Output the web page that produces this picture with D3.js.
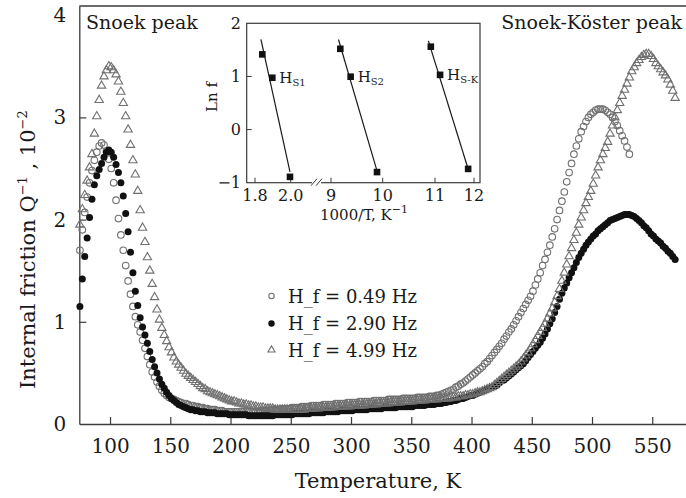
<!DOCTYPE html>
<html>
<head>
<meta charset="utf-8">
<script src="https://cdn.jsdelivr.net/npm/d3@7"></script>
<style>
  html, body { margin: 0; padding: 0; background: #fff; }
  svg { display: block; }
  text { font-family: "DejaVu Serif", "Liberation Serif", serif; fill: #1a1a1a; }
</style>
</head>
<body>
<script>
// Internal friction vs temperature, three measuring frequencies (2 K grid from 75 K)
const gridStart = 75;
const gridStep = 2;

const series049 = [
  1.70,1.90,2.07,2.22,2.36,2.48,2.58,2.66,2.72,2.75,2.73,2.67,2.59,2.50,2.36,2.19,2.01,1.85,1.70,1.55,
  1.40,1.27,1.15,1.05,0.97,0.90,0.82,0.74,0.66,0.58,0.51,0.46,0.41,0.37,0.33,0.30,0.28,0.26,0.25,0.24,
  0.23,0.22,0.21,0.20,0.20,0.19,0.18,0.18,0.17,0.17,0.16,0.16,0.15,0.15,0.14,0.14,0.14,0.13,0.13,0.13,
  0.12,0.12,0.12,0.12,0.12,0.12,0.12,0.12,0.12,0.12,0.12,0.12,0.12,0.12,0.12,0.13,0.13,0.13,0.13,0.13,
  0.14,0.14,0.14,0.14,0.15,0.15,0.15,0.15,0.16,0.16,0.16,0.16,0.17,0.17,0.17,0.17,0.18,0.18,0.18,0.18,
  0.18,0.19,0.19,0.19,0.19,0.19,0.20,0.20,0.20,0.20,0.20,0.21,0.21,0.21,0.21,0.21,0.22,0.22,0.22,0.22,
  0.22,0.22,0.23,0.23,0.23,0.23,0.23,0.23,0.24,0.24,0.24,0.24,0.24,0.24,0.25,0.25,0.25,0.25,0.25,0.25,
  0.26,0.26,0.26,0.26,0.26,0.27,0.27,0.27,0.28,0.28,0.29,0.30,0.31,0.32,0.33,0.34,0.36,0.37,0.39,0.40,
  0.42,0.44,0.46,0.48,0.50,0.52,0.54,0.56,0.59,0.61,0.64,0.67,0.70,0.73,0.76,0.79,0.83,0.86,0.90,0.93,
  0.97,1.01,1.05,1.09,1.13,1.17,1.21,1.25,1.30,1.36,1.42,1.48,1.55,1.61,1.68,1.75,1.83,1.91,2.00,2.09,
  2.18,2.27,2.37,2.46,2.55,2.64,2.72,2.79,2.86,2.91,2.96,3.00,3.03,3.05,3.07,3.08,3.08,3.08,3.07,3.05,
  3.03,3.00,2.96,2.92,2.87,2.82,2.77,2.71,2.64
];

const series290 = [
  1.15,1.42,1.64,1.82,2.02,2.20,2.34,2.43,2.49,2.55,2.61,2.66,2.68,2.66,2.61,2.54,2.46,2.36,2.23,2.06,
  1.88,1.68,1.48,1.30,1.16,1.04,0.95,0.87,0.79,0.71,0.63,0.56,0.50,0.44,0.39,0.35,0.31,0.28,0.25,0.23,
  0.21,0.19,0.18,0.17,0.16,0.15,0.14,0.14,0.13,0.13,0.12,0.12,0.12,0.11,0.11,0.11,0.11,0.10,0.10,0.10,
  0.10,0.10,0.09,0.09,0.09,0.09,0.09,0.09,0.09,0.09,0.08,0.08,0.08,0.08,0.08,0.08,0.08,0.08,0.08,0.08,
  0.08,0.09,0.09,0.09,0.09,0.09,0.09,0.09,0.09,0.10,0.10,0.10,0.10,0.10,0.10,0.10,0.11,0.11,0.11,0.11,
  0.11,0.11,0.12,0.12,0.12,0.12,0.12,0.12,0.13,0.13,0.13,0.13,0.13,0.13,0.14,0.14,0.14,0.14,0.14,0.14,
  0.15,0.15,0.15,0.15,0.15,0.15,0.16,0.16,0.16,0.16,0.16,0.16,0.17,0.17,0.17,0.17,0.17,0.17,0.17,0.18,
  0.18,0.18,0.18,0.18,0.19,0.19,0.19,0.19,0.20,0.20,0.20,0.21,0.21,0.22,0.22,0.23,0.23,0.24,0.25,0.25,
  0.26,0.27,0.28,0.28,0.29,0.30,0.31,0.32,0.33,0.34,0.35,0.36,0.37,0.38,0.40,0.42,0.43,0.45,0.47,0.49,
  0.51,0.53,0.55,0.57,0.59,0.62,0.65,0.68,0.71,0.74,0.77,0.80,0.84,0.88,0.93,0.98,1.03,1.09,1.15,1.22,
  1.28,1.33,1.38,1.43,1.48,1.53,1.58,1.63,1.67,1.71,1.75,1.78,1.81,1.84,1.86,1.89,1.91,1.93,1.95,1.97,
  1.99,2.00,2.01,2.02,2.03,2.04,2.05,2.05,2.05,2.04,2.03,2.01,1.99,1.97,1.94,1.92,1.89,1.86,1.84,1.81,
  1.79,1.77,1.74,1.72,1.69,1.67,1.64,1.61
];

const series499 = [
  1.95,2.10,2.24,2.38,2.51,2.64,2.84,3.01,3.17,3.31,3.40,3.46,3.50,3.49,3.46,3.42,3.35,3.25,3.14,3.01,
  2.88,2.73,2.58,2.44,2.28,2.09,1.92,1.78,1.63,1.50,1.37,1.24,1.12,1.02,0.94,0.87,0.81,0.75,0.70,0.65,
  0.61,0.58,0.55,0.52,0.49,0.47,0.45,0.43,0.41,0.39,0.37,0.35,0.34,0.32,0.31,0.30,0.29,0.28,0.27,0.26,
  0.25,0.24,0.23,0.22,0.22,0.21,0.20,0.20,0.19,0.19,0.18,0.18,0.17,0.17,0.16,0.16,0.16,0.15,0.15,0.15,
  0.15,0.14,0.14,0.14,0.14,0.14,0.14,0.14,0.14,0.14,0.14,0.14,0.14,0.14,0.15,0.15,0.15,0.15,0.15,0.15,
  0.16,0.16,0.16,0.16,0.16,0.16,0.17,0.17,0.17,0.17,0.17,0.17,0.17,0.18,0.18,0.18,0.18,0.18,0.18,0.19,
  0.19,0.19,0.19,0.19,0.20,0.20,0.20,0.20,0.20,0.21,0.21,0.21,0.21,0.21,0.22,0.22,0.22,0.22,0.22,0.23,
  0.23,0.23,0.23,0.23,0.24,0.24,0.24,0.24,0.24,0.25,0.25,0.25,0.25,0.25,0.26,0.26,0.26,0.27,0.27,0.27,
  0.28,0.28,0.29,0.29,0.30,0.31,0.31,0.32,0.33,0.34,0.35,0.36,0.38,0.40,0.42,0.44,0.46,0.48,0.50,0.52,
  0.54,0.56,0.58,0.61,0.64,0.67,0.70,0.74,0.78,0.82,0.86,0.90,0.94,0.98,1.03,1.08,1.13,1.19,1.25,1.32,
  1.40,1.48,1.56,1.64,1.72,1.80,1.87,1.95,2.02,2.09,2.16,2.22,2.28,2.35,2.43,2.51,2.58,2.64,2.70,2.76,
  2.84,2.92,3.00,3.07,3.14,3.21,3.27,3.33,3.39,3.45,3.49,3.53,3.56,3.59,3.61,3.62,3.62,3.60,3.57,3.53,
  3.50,3.47,3.44,3.41,3.37,3.32,3.26,3.19
];

const legendLabels = ["H_f = 0.49 Hz", "H_f = 2.90 Hz", "H_f = 4.99 Hz"];
const xTicks = [100, 150, 200, 250, 300, 350, 400, 450, 500, 550];
const yTicks = [0, 1, 2, 3, 4];

// Arrhenius inset: ln f against 1000/T for the three relaxation peaks
const arrheniusNames = ["S1", "S2", "S-K"];
const arrheniusX = [[1.841, 1.897, 1.996], [9.18, 9.38, 9.89], [10.92, 11.13, 11.85]];
const arrheniusY = [[1.415, 0.975, -0.89], [1.52, 0.995, -0.80], [1.56, 1.03, -0.74]];
const insetLeftTicks = [1.8, 2.0];
const insetRightTicks = [9, 10, 11, 12];
const insetYTicks = [-1, 0, 1, 2];

const W = 686, H = 498;
const svg = d3.select("body").append("svg").attr("width", W).attr("height", H);

const x = d3.scaleLinear().domain([74.5, 578]).range([79.3, 686]);
const y = d3.scaleLinear().domain([0, 4.09]).range([424, 6]);

const axisColor = "#3a3a3a";
const markerGray = "#707070";

// frame: top rule
svg.append("line")
  .attr("x1", x.range()[0]).attr("x2", W)
  .attr("y1", y.range()[1]).attr("y2", y.range()[1])
  .attr("stroke", axisColor).attr("stroke-width", 1.3);

const xAxis = svg.append("g")
  .attr("transform", `translate(0,${y(0)})`)
  .call(d3.axisBottom(x).tickValues(xTicks).tickSizeInner(-7).tickSizeOuter(0).tickPadding(15));
const yAxis = svg.append("g")
  .attr("transform", `translate(${x.range()[0]},0)`)
  .call(d3.axisLeft(y).tickValues(yTicks).tickSizeInner(-7).tickSizeOuter(0).tickPadding(13).tickFormat(d3.format("d")));

[xAxis, yAxis].forEach(g => {
  g.select(".domain").attr("stroke", axisColor).attr("stroke-width", 1.3);
  g.selectAll(".tick line").attr("stroke", axisColor).attr("stroke-width", 1.2);
  g.selectAll(".tick text").attr("font-size", 20).attr("font-family", "DejaVu Serif").attr("fill", "#1a1a1a");
});
yAxis.selectAll(".tick").filter(d => d === 0 || d === 4).select("line").remove();

// axis titles
svg.append("text")
  .attr("x", 378).attr("y", 488)
  .attr("text-anchor", "middle").attr("font-size", 21)
  .text("Temperature, K");

const yTitle = svg.append("text")
  .attr("transform", "translate(35,389) rotate(-90)")
  .attr("font-size", 21);
yTitle.append("tspan").text("Internal friction Q");
yTitle.append("tspan").attr("dy", -8).attr("font-size", 13).text("−1");
yTitle.append("tspan").attr("dy", 8).text(" , 10");
yTitle.append("tspan").attr("dy", -8).attr("font-size", 13).text("−2");

// peak annotations
svg.append("text").attr("x", 86).attr("y", 29).attr("font-size", 19).text("Snoek peak");
svg.append("text").attr("x", 682).attr("y", 29).attr("font-size", 19)
  .attr("text-anchor", "end").text("Snoek-Köster peak");

// data markers
const toPoints = vals => vals.map((v, i) => ({ t: gridStart + gridStep * i, v }));
const plot = svg.append("g");

const triangle = d3.symbol().type(d3.symbolTriangle);

plot.append("g").selectAll("circle")
  .data(toPoints(series049)).join("circle")
  .attr("cx", d => x(d.t)).attr("cy", d => y(d.v)).attr("r", 3.3)
  .attr("fill", "none").attr("stroke", markerGray).attr("stroke-width", 1.1);

plot.append("g").selectAll("circle")
  .data(toPoints(series290)).join("circle")
  .attr("cx", d => x(d.t)).attr("cy", d => y(d.v)).attr("r", 3.5)
  .attr("fill", "#111");

plot.append("g").selectAll("path")
  .data(toPoints(series499)).join("path")
  .attr("d", triangle.size(30)())
  .attr("transform", d => `translate(${x(d.t)},${y(d.v)})`)
  .attr("fill", "none").attr("stroke", markerGray).attr("stroke-width", 1.1);

// legend
const legend = svg.append("g");
const legendRowY = [296, 323.5, 350];
const legendMarkerX = 271.5;
legendLabels.forEach((label, i) => {
  const cy = legendRowY[i];
  if (i === 0) {
    legend.append("circle").attr("cx", legendMarkerX).attr("cy", cy).attr("r", 2.7)
      .attr("fill", "none").attr("stroke", markerGray).attr("stroke-width", 1.1);
  } else if (i === 1) {
    legend.append("circle").attr("cx", legendMarkerX).attr("cy", cy).attr("r", 3.2).attr("fill", "#111");
  } else {
    legend.append("path").attr("d", d3.symbol().type(d3.symbolTriangle).size(22)())
      .attr("transform", `translate(${legendMarkerX},${cy})`)
      .attr("fill", "none").attr("stroke", markerGray).attr("stroke-width", 1.1);
  }
  legend.append("text").attr("x", 288).attr("y", cy + 6.5).attr("font-size", 18).text(label);
});

// ---------- inset ----------
const inset = svg.append("g");
const ix0 = 246.7, ix1 = 480, iy0 = 23.3, iy1 = 182.7;
const xl = d3.scaleLinear().domain([1.8, 2.0]).range([255, 290.7]);
const xr = d3.scaleLinear().domain([9, 10, 11, 12]).range([331, 382.7, 435, 474]);
const yi = d3.scaleLinear().domain([-1, 2]).range([iy1, iy0]);
const xi = v => (v < 5 ? xl(v) : xr(v));

inset.append("rect")
  .attr("x", ix0).attr("y", iy0).attr("width", ix1 - ix0).attr("height", iy1 - iy0)
  .attr("fill", "#fff").attr("stroke", axisColor).attr("stroke-width", 1.2);

// axis break marks on the bottom edge
const breakX = 317;
inset.append("rect").attr("x", breakX - 5).attr("y", iy1 - 2).attr("width", 9).attr("height", 4).attr("fill", "#fff");
[-3, 2].forEach(dx => {
  inset.append("line")
    .attr("x1", breakX + dx - 3).attr("y1", iy1 + 3)
    .attr("x2", breakX + dx + 3).attr("y2", iy1 - 4)
    .attr("stroke", axisColor).attr("stroke-width", 1);
});

const insetFont = 16;
insetYTicks.forEach(v => {
  if (v !== -1 && v !== 2) {
    inset.append("line").attr("x1", ix0).attr("x2", ix0 + 5).attr("y1", yi(v)).attr("y2", yi(v))
      .attr("stroke", axisColor).attr("stroke-width", 1);
  }
  inset.append("text").attr("x", 241).attr("y", yi(v) + 5.5)
    .attr("text-anchor", "end").attr("font-size", insetFont)
    .text(v < 0 ? "−" + Math.abs(v) : String(v));
});
const xTickFmt = d3.format(".1f");
insetLeftTicks.forEach(v => {
  inset.append("line").attr("x1", xl(v)).attr("x2", xl(v)).attr("y1", iy1).attr("y2", iy1 - 5)
    .attr("stroke", axisColor).attr("stroke-width", 1);
  inset.append("text").attr("x", xl(v)).attr("y", 201).attr("text-anchor", "middle")
    .attr("font-size", insetFont).text(xTickFmt(v));
});
insetRightTicks.forEach(v => {
  if (xr(v) < ix1 - 1) {
    inset.append("line").attr("x1", xr(v)).attr("x2", xr(v)).attr("y1", iy1).attr("y2", iy1 - 5)
      .attr("stroke", axisColor).attr("stroke-width", 1);
  }
  inset.append("text").attr("x", xr(v)).attr("y", 201).attr("text-anchor", "middle")
    .attr("font-size", insetFont).text(String(v));
});

const insetXTitle = inset.append("text").attr("x", 364).attr("y", 220)
  .attr("text-anchor", "middle").attr("font-size", 15);
insetXTitle.append("tspan").text("1000/T, K");
insetXTitle.append("tspan").attr("dy", -7).attr("font-size", 11).text("−1");

inset.append("text").attr("transform", "translate(217,97) rotate(-90)")
  .attr("text-anchor", "middle").attr("font-size", 15).text("Ln f");

// least-squares fit line and points for each peak
arrheniusNames.forEach((name, k) => {
  const xs = arrheniusX[k], ys = arrheniusY[k];
  const mx = d3.mean(xs), my = d3.mean(ys);
  const sxy = d3.sum(xs, (v, i) => (v - mx) * (ys[i] - my));
  const sxx = d3.sum(xs, v => (v - mx) * (v - mx));
  const slope = sxy / sxx, icpt = my - slope * mx;
  const xa = d3.min(xs) - 0.05 * (d3.max(xs) - d3.min(xs));
  const xb = d3.max(xs);
  inset.append("line")
    .attr("x1", xi(xa)).attr("y1", yi(slope * xa + icpt))
    .attr("x2", xi(xb)).attr("y2", yi(slope * xb + icpt))
    .attr("stroke", "#1a1a1a").attr("stroke-width", 1.2);
  xs.forEach((xv, i) => {
    inset.append("rect")
      .attr("x", xi(xv) - 3.3).attr("y", yi(ys[i]) - 3.3)
      .attr("width", 6.6).attr("height", 6.6).attr("fill", "#111");
  });
  const lbl = inset.append("text")
    .attr("x", xi(xs[1]) + 7).attr("y", yi(ys[1]) + 5.5).attr("font-size", 15);
  lbl.append("tspan").text("H");
  lbl.append("tspan").attr("dy", 3).attr("font-size", 10).text(name);
});
</script>
</body>
</html>
